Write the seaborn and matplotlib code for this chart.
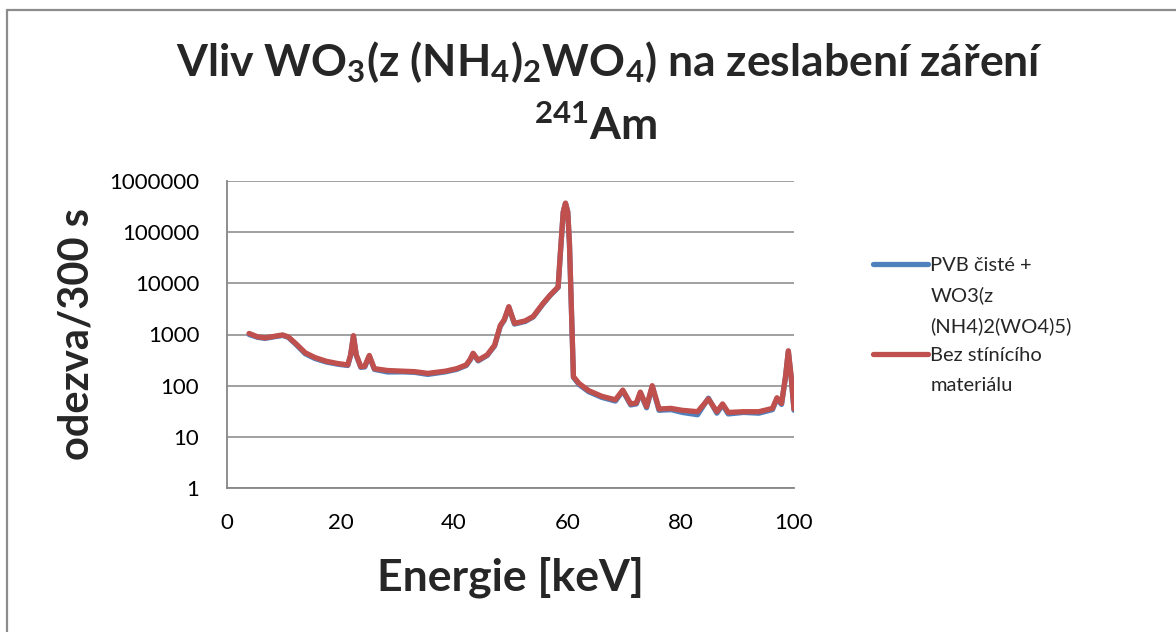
import matplotlib
matplotlib.use("Agg")
import matplotlib.pyplot as plt
import seaborn as sns
import pandas as pd
from matplotlib.lines import Line2D
from matplotlib.ticker import FixedLocator, FuncFormatter, NullLocator

# ---------------- data ----------------
energy_kev = [3.9, 5.4, 6.7, 8.3, 9.8, 10.8, 12.1, 13.8, 15.5, 17.5, 19.6, 21.3, 21.8, 22.3, 22.8,
              23.6, 24.3, 25.1, 25.7, 26.0, 28.3, 31.0, 33.1, 35.4, 38.5, 40.5, 42.2, 42.9, 43.4,
              44.3, 45.9, 47.2, 48.2, 48.9, 49.7, 50.7, 52.6, 54.0, 55.7, 57.0, 58.4, 58.8, 59.3,
              59.7, 60.1, 60.4, 61.1, 62.1, 63.8, 66.1, 68.5, 69.8, 71.2, 72.2, 72.9, 74.0, 75.0,
              76.2, 78.3, 80.3, 83.0, 84.9, 86.4, 87.4, 88.4, 91.1, 93.8, 96.2, 97.0, 97.8, 98.5,
              99.0, 99.5, 100.0]

counts_shield = [1000, 880, 840, 900, 960, 880, 650, 420, 340, 290, 262, 248, 390, 930, 390,
                 228, 232, 380, 252, 208, 185, 186, 182, 166, 186, 208, 248, 320, 420,
                 305, 390, 600, 1450, 1900, 3400, 1600, 1800, 2200, 3900, 5800, 8300, 39000, 245000,
                 365000, 245000, 58000, 145, 105, 76, 59, 50, 79, 42, 44, 72, 37, 96,
                 33, 34, 30, 27, 57, 29, 42, 28, 30, 29, 34, 56, 43, 145,
                 470, 145, 33]

counts_clean = [1050, 900, 860, 920, 980, 900, 670, 440, 355, 300, 270, 255, 400, 950, 400,
                235, 240, 390, 260, 215, 198, 192, 188, 174, 192, 215, 255, 330, 430,
                315, 400, 620, 1500, 1950, 3500, 1650, 1850, 2250, 4000, 5900, 8500, 40000, 250000,
                370000, 250000, 60000, 150, 110, 80, 62, 53, 82, 44, 46, 75, 39, 100,
                35, 36, 33, 31, 55, 31, 44, 30, 31, 31, 36, 58, 45, 150,
                480, 150, 35]

series_names = ["PVB čisté +\nWO3(z\n(NH4)2(WO4)5)", "Bez stínícího materiálu"]
x_ticks = [0, 20, 40, 60, 80, 100]
y_ticks = [1, 10, 100, 1000, 10000, 100000, 1000000]

title_line1 = r"Vliv WO$_3$(z (NH$_4$)$_2$WO$_4$) na zeslabení záření"
title_line2 = r"$^{241}$Am"
x_label = "Energie [keV]"
y_label = "odezva/300 s"
legend_lines = ["PVB čisté +", "WO3(z", "(NH4)2(WO4)5)", "Bez stínícího", "materiálu"]

# ---------------- style ----------------
sns.set_style("white")
plt.rcParams["font.family"] = ["Lato", "DejaVu Sans"]
plt.rcParams["mathtext.fontset"] = "custom"
plt.rcParams["mathtext.rm"] = "Lato:bold"
plt.rcParams["mathtext.bf"] = "Lato:bold"
plt.rcParams["mathtext.it"] = "Lato:bold"
plt.rcParams["mathtext.default"] = "bf"

blue = "#4F81BD"
red = "#C0504D"
gray = "#868686"

W, H = 1176, 632
fig = plt.figure(figsize=(W / 100, H / 100), dpi=100)
fig.patch.set_facecolor("white")

# chart border (left and top visible)
fig.add_artist(Line2D([7 / W, 7 / W], [0, 1 - 10 / H], color="#8c8c8c", lw=1.6))
fig.add_artist(Line2D([7 / W, 1], [1 - 10 / H, 1 - 10 / H], color="#8c8c8c", lw=1.6))

x0, x1, ytop, ybot = 227, 794, 181, 488
ax = fig.add_axes([x0 / W, 1 - ybot / H, (x1 - x0) / W, (ybot - ytop) / H])

df = pd.DataFrame({
    "Energie": energy_kev * 2,
    "odezva": counts_shield + counts_clean,
    "serie": [series_names[0]] * len(energy_kev) + [series_names[1]] * len(energy_kev),
})

sns.lineplot(data=df, x="Energie", y="odezva", hue="serie",
             palette={series_names[0]: blue, series_names[1]: red},
             estimator=None, sort=False, lw=3.8, legend=False, ax=ax)
for ln in ax.lines:
    ln.set_solid_capstyle("round")
    ln.set_solid_joinstyle("round")

ax.set_yscale("log")
ax.set_ylim(1, 1000000)
ax.set_xlim(0, 100)
ax.yaxis.set_major_locator(FixedLocator(y_ticks))
ax.yaxis.set_minor_locator(NullLocator())
ax.yaxis.set_major_formatter(FuncFormatter(lambda v, p: f"{int(round(v))}"))
ax.xaxis.set_major_locator(FixedLocator(x_ticks))

ax.grid(axis="y", color=gray, lw=1.1)
ax.grid(axis="x", visible=False)
ax.set_axisbelow(True)
for s in ["top", "right"]:
    ax.spines[s].set_visible(False)
for s in ["left", "bottom"]:
    ax.spines[s].set_color(gray)
    ax.spines[s].set_linewidth(1.3)

ax.tick_params(axis="both", which="major", direction="out", length=7, width=1.1,
               color=gray, labelsize=16, labelcolor="black")
ax.tick_params(axis="x", pad=11)
ax.tick_params(axis="y", pad=13)

ax.set_xlabel(x_label, fontsize=32, fontweight="bold")
ax.xaxis.set_label_coords(0.5, -0.222)
ax.set_ylabel(y_label, fontsize=30, fontweight="bold")
ax.yaxis.set_label_coords(-0.232, 0.5)

fig.text(610 / W, 1 - 76 / H, title_line1, ha="center", va="baseline",
         fontsize=32, fontweight="bold")
fig.text(596 / W, 1 - 140 / H, title_line2, ha="center", va="baseline",
         fontsize=32, fontweight="bold")

# legend
handles = [
    Line2D([], [], color=blue, lw=3.8, solid_capstyle="round"),
    Line2D([], [], color="none"),
    Line2D([], [], color="none"),
    Line2D([], [], color=red, lw=3.8, solid_capstyle="round"),
    Line2D([], [], color="none"),
]
fig.legend(handles, legend_lines, loc="upper left", bbox_to_anchor=(873 / W, 1 - 257 / H),
           frameon=False, fontsize=14.5, handlelength=2.75, handletextpad=0.1,
           labelspacing=0.62, borderpad=0, borderaxespad=0)

fig.savefig("out.png", dpi=100, facecolor="white")
